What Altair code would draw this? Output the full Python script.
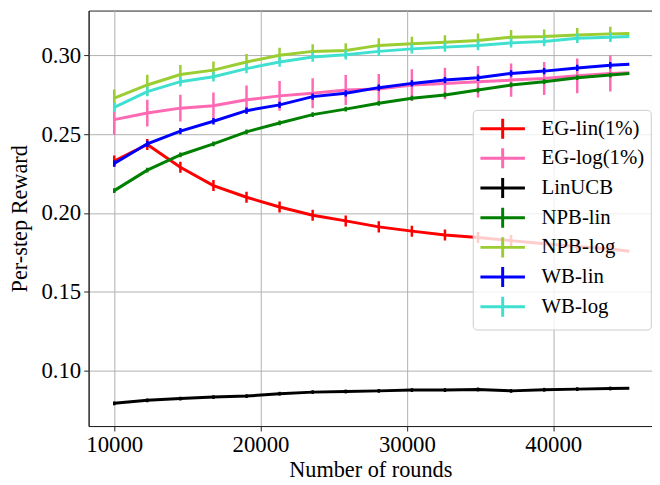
import altair as alt
import pandas as pd

# x positions of the plotted points (error bars at all but the last one)
x_vals = [10000, 12260, 14520, 16780, 19040, 21300, 23560, 25820, 28080,
          30340, 32600, 34860, 37120, 39380, 41640, 43900, 45200]

series_names = ["EG-lin(1%)", "EG-log(1%)", "LinUCB", "NPB-lin", "NPB-log", "WB-lin", "WB-log"]
series_colors = ["#ff0000", "#ff69b4", "#000000", "#008000", "#9acd32", "#0000ff", "#40e0d0"]

eg_lin = [0.2330, 0.2435, 0.2290, 0.2174, 0.2100, 0.2038, 0.1986, 0.1950, 0.1912,
          0.1885, 0.1860, 0.1845, 0.1825, 0.1805, 0.1787, 0.1772, 0.1758]
eg_log = [0.2592, 0.2634, 0.2665, 0.2680, 0.2718, 0.2743, 0.2760, 0.2780, 0.2787,
          0.2812, 0.2822, 0.2833, 0.2843, 0.2853, 0.2870, 0.2885, 0.2890]
linucb = [0.0793, 0.0812, 0.0823, 0.0833, 0.0839, 0.0854, 0.0864, 0.0868, 0.0872,
          0.0877, 0.0877, 0.0881, 0.0872, 0.0879, 0.0883, 0.0887, 0.0889]
npb_lin = [0.2142, 0.2272, 0.2368, 0.2439, 0.2515, 0.2571, 0.2624, 0.2659, 0.2696,
           0.2728, 0.2749, 0.2780, 0.2812, 0.2833, 0.2858, 0.2875, 0.2885]
npb_log = [0.2728, 0.2812, 0.2878, 0.2906, 0.2958, 0.3000, 0.3025, 0.3031, 0.3063,
           0.3073, 0.3083, 0.3094, 0.3115, 0.3119, 0.3129, 0.3136, 0.3138]
wb_lin = [0.2314, 0.2439, 0.2519, 0.2582, 0.2649, 0.2686, 0.2738, 0.2759, 0.2795,
          0.2822, 0.2843, 0.2858, 0.2885, 0.2900, 0.2920, 0.2937, 0.2944]
wb_log = [0.2670, 0.2770, 0.2833, 0.2864, 0.2916, 0.2958, 0.2990, 0.3004, 0.3025,
          0.3041, 0.3052, 0.3063, 0.3079, 0.3088, 0.3108, 0.3115, 0.3119]

eg_lin_err = [0.0035, 0.0035, 0.0035, 0.0035, 0.0035, 0.0035, 0.0035, 0.0035,
              0.0035, 0.0035, 0.0035, 0.0035, 0.0035, 0.0035, 0.0035, 0.0035]
eg_log_err = [0.0095, 0.0085, 0.0085, 0.0085, 0.0090, 0.0095, 0.0095, 0.0095,
              0.0095, 0.0100, 0.0100, 0.0100, 0.0105, 0.0105, 0.0110, 0.0115]
linucb_err = [0.0012, 0.0012, 0.0012, 0.0012, 0.0012, 0.0012, 0.0012, 0.0012,
              0.0012, 0.0012, 0.0012, 0.0012, 0.0012, 0.0012, 0.0012, 0.0012]
npb_lin_err = [0.0015, 0.0015, 0.0015, 0.0015, 0.0015, 0.0015, 0.0015, 0.0015,
               0.0015, 0.0015, 0.0015, 0.0015, 0.0015, 0.0015, 0.0015, 0.0015]
npb_log_err = [0.0055, 0.0065, 0.0060, 0.0055, 0.0050, 0.0048, 0.0046, 0.0045,
               0.0045, 0.0045, 0.0045, 0.0045, 0.0045, 0.0045, 0.0045, 0.0045]
wb_lin_err = [0.0020, 0.0020, 0.0020, 0.0020, 0.0020, 0.0020, 0.0020, 0.0020,
              0.0020, 0.0020, 0.0020, 0.0020, 0.0020, 0.0020, 0.0020, 0.0020]
wb_log_err = [0.0030, 0.0030, 0.0030, 0.0030, 0.0030, 0.0030, 0.0030, 0.0030,
              0.0030, 0.0030, 0.0030, 0.0030, 0.0030, 0.0030, 0.0030, 0.0030]

series_vals = [eg_lin, eg_log, linucb, npb_lin, npb_log, wb_lin, wb_log]
series_errs = [eg_lin_err, eg_log_err, linucb_err, npb_lin_err, npb_log_err, wb_lin_err, wb_log_err]

FONT = "Liberation Serif"

x_scale = alt.Scale(domain=[8250, 46750], nice=False, zero=False)
y_scale = alt.Scale(domain=[0.0649, 0.3284], nice=False, zero=False)
color_scale = alt.Scale(domain=series_names, range=series_colors)

legend = alt.Legend(
    title=None,
    orient="none",
    legendX=388.3,
    legendY=100.4,
    symbolType="M-1,0L3,0M1,-0.9L1,0.9",
    symbolSize=506,
    symbolStrokeWidth=3,
    labelFont=FONT,
    labelFontSize=21,
    labelColor="black",
    labelOffset=37.5,
    rowPadding=-4.2,
    padding=6,
    fillColor="rgba(255,255,255,0.8)",
    strokeColor="#cccccc",
    cornerRadius=4,
)

x_axis = alt.Axis(
    values=[10000, 20000, 30000, 40000],
    format="d",
    title="Number of rounds",
    titleY=51.5,
    titleBaseline="alphabetic",
)
y_axis = alt.Axis(
    values=[0.10, 0.15, 0.20, 0.25, 0.30],
    format=".2f",
    title="Per-step Reward",
    titleX=-70,
    titleBaseline="middle",
)

layers = []
for name, vals, errs in zip(series_names, series_vals, series_errs):
    df_line = pd.DataFrame({"series": name, "x": x_vals, "y": vals})
    df_err = pd.DataFrame({
        "series": name,
        "x": x_vals[:len(errs)],
        "lo": [v - e for v, e in zip(vals, errs)],
        "hi": [v + e for v, e in zip(vals, errs)],
    })
    line = alt.Chart(df_line).mark_line(strokeWidth=3, clip=True).encode(
        x=alt.X("x:Q", scale=x_scale, axis=x_axis),
        y=alt.Y("y:Q", scale=y_scale, axis=y_axis),
        color=alt.Color("series:N", scale=color_scale, legend=legend),
    )
    bars = alt.Chart(df_err).mark_rule(strokeWidth=2.5, clip=True).encode(
        x=alt.X("x:Q", scale=x_scale),
        y=alt.Y("lo:Q", scale=y_scale),
        y2="hi:Q",
        color=alt.Color("series:N", scale=color_scale, legend=legend),
    )
    layers.append(line)
    layers.append(bars)

chart = alt.layer(*layers).properties(
    width=569.5,
    height=420,
    padding={"left": 81.5, "top": 0, "right": 0, "bottom": 55},
    autosize=alt.AutoSizeParams(type="none"),
    background="white",
).configure_view(
    stroke="#222222",
    strokeWidth=1,
).configure_axis(
    labelFont=FONT,
    labelFontSize=23,
    labelColor="black",
    titleFont=FONT,
    titleFontSize=22.5,
    titleFontWeight="normal",
    titleColor="black",
    domainColor="#222222",
    domainWidth=1,
    tickColor="#222222",
    tickSize=5,
    tickWidth=1,
    labelPadding=3,
    grid=True,
    gridColor="#b0b0b0",
    gridWidth=1,
)

chart.save("out.html", embed_options={"renderer": "svg", "actions": False})
